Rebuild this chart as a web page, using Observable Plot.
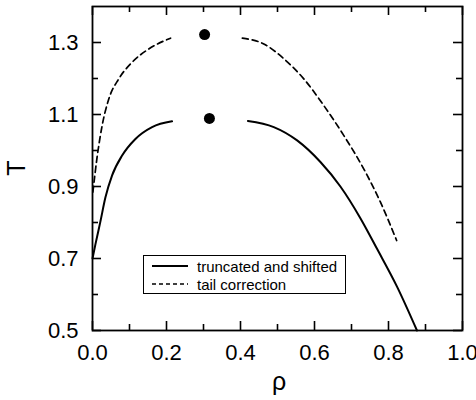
<!DOCTYPE html>
<html>
<head>
<meta charset="utf-8">
<script src="https://cdn.jsdelivr.net/npm/d3@7"></script>
<script src="https://cdn.jsdelivr.net/npm/@observablehq/plot@0.6"></script>
<style>
  html, body { margin: 0; padding: 0; background: #fff; }
  #wrap { position: relative; width: 476px; height: 400px; font-family: "Liberation Sans", Arial, sans-serif; }
  #legend { position: absolute; left: 143px; top: 255px; width: 203px; height: 39px; border: 1px solid #000; background: #fff; box-sizing: border-box; font-size: 15px; color: #000; }
  #legend .row { position: absolute; left: 8px; display: flex; align-items: center; height: 18px; }
  #legend svg { margin-right: 9px; }
</style>
</head>
<body>
<div id="wrap"></div>
<script>
// Data
const solidLeftRho = [0, 0.008, 0.021, 0.035, 0.053, 0.080, 0.116, 0.161, 0.215];
const solidLeftT   = [0.70, 0.74, 0.801, 0.870, 0.931, 0.986, 1.032, 1.065, 1.081];
const solidRightRho = [0.42, 0.49, 0.553, 0.616, 0.670, 0.724, 0.769, 0.823, 0.877];
const solidRightT   = [1.082, 1.065, 1.028, 0.968, 0.900, 0.812, 0.727, 0.622, 0.50];
const dashLeftRho = [0.001, 0.012, 0.026, 0.044, 0.071, 0.107, 0.152, 0.211];
const dashLeftT   = [0.884, 0.978, 1.069, 1.143, 1.199, 1.245, 1.282, 1.312];
const dashRightRho = [0.405, 0.463, 0.517, 0.571, 0.625, 0.679, 0.733, 0.778, 0.822];
const dashRightT   = [1.312, 1.296, 1.255, 1.199, 1.125, 1.042, 0.949, 0.857, 0.75];
const criticalRho = [0.303, 0.316];
const criticalT   = [1.322, 1.089];
const xTicks = [0, 0.2, 0.4, 0.6, 0.8, 1.0];
const xMinor = [0.1, 0.3, 0.5, 0.7, 0.9];
const yTicks = [0.5, 0.7, 0.9, 1.1, 1.3];
const yMinor = [0.6, 0.8, 1.0, 1.2];
const seriesNames = ["truncated and shifted", "tail correction"];

const toPts = (xs, ys) => xs.map((x, i) => ({rho: x, T: ys[i]}));
const sl = toPts(solidLeftRho, solidLeftT);
const sr = toPts(solidRightRho, solidRightT);
const dl = toPts(dashLeftRho, dashLeftT);
const dr = toPts(dashRightRho, dashRightT);
const crit = toPts(criticalRho, criticalT);

const fmt = d => d.toFixed(1);
const W = 476, H = 400, ML = 92, MR = 14, MT = 6, MB = 70;
const PW = W - ML - MR, PH = H - MT - MB;
const MAJ = 9, MIN = 6;
const tickStyle = {x: d => d, stroke: "#000", strokeWidth: 1.6};
const tickStyleY = {y: d => d, stroke: "#000", strokeWidth: 1.6};
const chart = Plot.plot({
  width: W,
  height: H,
  marginLeft: ML,
  marginRight: MR,
  marginTop: MT,
  marginBottom: MB,
  style: {fontFamily: "Liberation Sans, Arial, sans-serif", fontSize: "22px", color: "#000", background: "#fff"},
  x: {domain: [0, 1]},
  y: {domain: [0.5, 1.4]},
  marks: [
    // tick labels
    Plot.axisX({ticks: xTicks, tickSize: 0, tickPadding: 14, tickFormat: fmt, fontSize: 22, label: null}),
    Plot.axisY({ticks: yTicks, tickSize: 0, tickPadding: 14, tickFormat: fmt, fontSize: 22, label: null}),
    // inward ticks: bottom, top, left, right
    Plot.ruleX(xTicks, {...tickStyle, insetTop: PH - MAJ}),
    Plot.ruleX(xMinor, {...tickStyle, insetTop: PH - MIN}),
    Plot.ruleX(xTicks, {...tickStyle, insetBottom: PH - MAJ}),
    Plot.ruleX(xMinor, {...tickStyle, insetBottom: PH - MIN}),
    Plot.ruleY(yTicks, {...tickStyleY, insetRight: PW - MAJ}),
    Plot.ruleY(yMinor, {...tickStyleY, insetRight: PW - MIN}),
    Plot.ruleY(yTicks, {...tickStyleY, insetLeft: PW - MAJ}),
    Plot.ruleY(yMinor, {...tickStyleY, insetLeft: PW - MIN}),
    Plot.frame({stroke: "#000", strokeWidth: 1.8}),
    Plot.line(sl, {x: "rho", y: "T", curve: "monotone-x", stroke: "#000", strokeWidth: 2}),
    Plot.line(sr, {x: "rho", y: "T", curve: "monotone-x", stroke: "#000", strokeWidth: 2}),
    Plot.line(dl, {x: "rho", y: "T", curve: "monotone-x", stroke: "#000", strokeWidth: 1.7, strokeDasharray: "6,4"}),
    Plot.line(dr, {x: "rho", y: "T", curve: "monotone-x", stroke: "#000", strokeWidth: 1.7, strokeDasharray: "6,4"}),
    Plot.dot(crit, {x: "rho", y: "T", r: 5.5, fill: "#000", stroke: null})
  ]
});

const wrap = document.getElementById("wrap");
wrap.appendChild(chart);

// axis titles
const ns = "http://www.w3.org/2000/svg";
function addText(txt, x, y, size, rot) {
  const t = document.createElementNS(ns, "text");
  t.textContent = txt;
  t.setAttribute("x", x); t.setAttribute("y", y);
  t.setAttribute("text-anchor", "middle");
  t.setAttribute("font-size", size);
  t.setAttribute("font-family", "Liberation Sans, Arial, sans-serif");
  t.setAttribute("style", "fill:#000");
  if (rot) t.setAttribute("transform", `rotate(${rot},${x},${y})`);
  chart.appendChild(t);
}
addText("T", 25, 168, 25, -90);
addText("ρ", 279, 390, 25, 0);

// legend
const leg = document.createElement("div");
leg.id = "legend";
const dashes = [null, "4,3"];
seriesNames.forEach((name, i) => {
  const row = document.createElement("div");
  row.className = "row";
  row.style.top = (i === 0 ? 1 : 19) + "px";
  row.innerHTML = `<svg width="36" height="14"><line x1="0" x2="36" y1="7" y2="7" stroke="#000" stroke-width="${i===0?2:1.5}" ${dashes[i] ? `stroke-dasharray="${dashes[i]}"` : ""}/></svg><span>${name}</span>`;
  leg.appendChild(row);
});
wrap.appendChild(leg);
</script>
</body>
</html>
